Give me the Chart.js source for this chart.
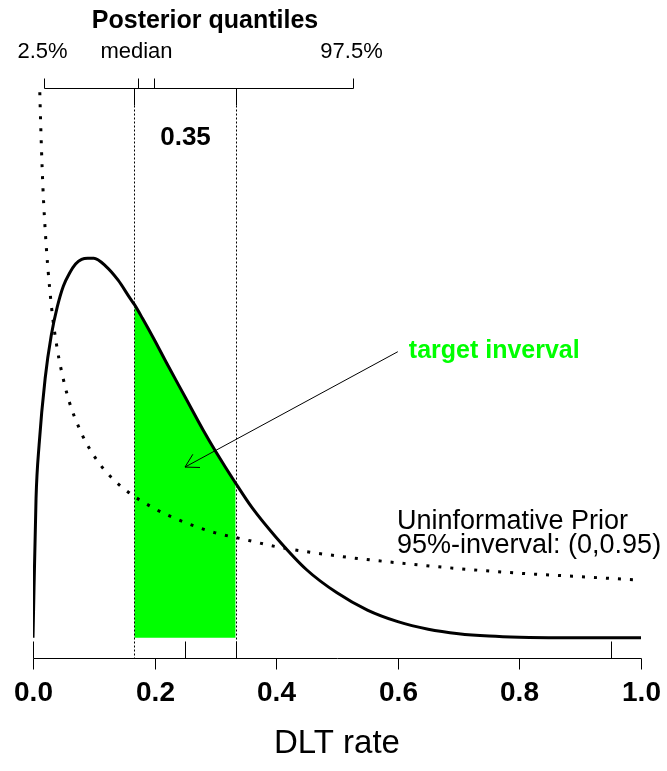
<!DOCTYPE html>
<html><head><meta charset="utf-8">
<script src="https://cdn.jsdelivr.net/npm/chart.js@4"></script>
<style>html,body{margin:0;padding:0;background:#fff}#wrap{width:667px;height:771px}</style>
</head><body><div id="wrap"><canvas id="c" width="667" height="771"></canvas></div>
<script>
// ---- data ----
const xGrid = [0,0.005,0.01,0.02,0.03,0.04,0.05,0.06,0.07,0.08,0.09,0.10,0.12,0.14,0.16,1/6,0.18,0.20,0.22,0.25,0.28,0.30,1/3,0.36,0.40,0.45,0.50,0.55,0.60,0.65,0.70,0.75,0.80,0.90,1.00];
const posterior = [0,1.21,1.67,2.25,2.62,2.87,3.05,3.16,3.24,3.28,3.29,3.29,3.22,3.10,2.94,2.89,2.77,2.58,2.38,2.09,1.80,1.62,1.34,1.13,0.87,0.59,0.39,0.24,0.14,0.075,0.036,0.015,0.005,0.0005,0];
const priorX = [0.0075,0.01,0.015,0.02,0.03,0.04,0.05,0.06,0.08,0.10,0.12,0.15,0.20,0.25,0.30,0.35,0.40,0.50,0.60,0.70,0.80,0.90,1.00];
const prior = [5.77,5.0,4.08,3.54,2.89,2.50,2.24,2.04,1.77,1.58,1.44,1.29,1.12,1.00,0.91,0.85,0.79,0.71,0.65,0.60,0.56,0.53,0.50];
const targetInterval = [1/6, 1/3];
const targetProb = "0.35";
const xTickValues = [0,0.2,0.4,0.6,0.8,1.0];
const xTickLabels = ["0.0","0.2","0.4","0.6","0.8","1.0"];
const rugValues = [0,0.25,1/3,0.95];
const quantileValues = [0.018,0.173,0.199,0.526];
const quantileLabels = ["2.5%","median","","97.5%"];
const texts = {title:"Posterior quantiles", xTitle:"DLT rate", target:"target inverval", prior1:"Uninformative Prior", prior2:"95%-inverval: (0,0.95)"};
const arrowFrom = [0.600, 2.48], arrowTo = [0.25, 1.48];

// ---- build datasets ----
const postPts = xGrid.map((x,i)=>({x, y:posterior[i]}));
const priorPts = priorX.map((x,i)=>({x, y:prior[i]}));
const fillPts = postPts.filter(p=>p.x>=targetInterval[0]-1e-9 && p.x<=targetInterval[1]+1e-9);

const FONT = '"Liberation Sans", Arial, sans-serif';
function txt(ctx,s,x,y,size,opt={}){
  ctx.save();
  ctx.font=(opt.bold?'bold ':'')+size+'px '+FONT;
  ctx.fillStyle=opt.color||'#000';
  ctx.textAlign=opt.align||'center';
  ctx.textBaseline='alphabetic';
  ctx.fillText(s,x,y);
  ctx.restore();
}
function seg(ctx,x1,y1,x2,y2){ctx.beginPath();ctx.moveTo(x1,y1);ctx.lineTo(x2,y2);ctx.stroke();}

const overlay = {
  id:'overlay',
  afterDatasetsDraw(chart){
    const ctx=chart.ctx, xs=chart.scales.x, ys=chart.scales.y, a=chart.chartArea;
    const X=v=>Math.round(xs.getPixelForValue(v))+0.5, Y=v=>ys.getPixelForValue(v);
    ctx.save();
    ctx.strokeStyle='#000'; ctx.lineWidth=1; ctx.lineCap='butt';
    const yt=Math.round(a.top)+0.5, yb=Math.round(a.bottom)+0.5;
    // vertical interval lines
    targetInterval.forEach(v=>{
      ctx.setLineDash([]); seg(ctx,X(v),yt,X(v),yt+17);
      ctx.setLineDash([2,2]); seg(ctx,X(v),yt+17,X(v),yb);
    });
    ctx.setLineDash([]);
    // bottom axis
    seg(ctx,X(0),yb,X(1),yb);
    xTickValues.forEach((v,i)=>{ seg(ctx,X(v),yb,X(v),yb+11); txt(ctx,xTickLabels[i],X(v),yb+42,28,{bold:true}); });
    rugValues.forEach(v=>seg(ctx,X(v),yb,X(v),yb-17));
    txt(ctx,texts.xTitle,(a.left+a.right)/2,yb+94,33);
    // top quantile axis
    seg(ctx,X(quantileValues[0]),yt,X(quantileValues[quantileValues.length-1]),yt);
    quantileValues.forEach((v,i)=>{ seg(ctx,X(v),yt,X(v),yt-10); if(quantileLabels[i]) txt(ctx,quantileLabels[i],X(v)-2,yt-31,22); });
    txt(ctx,texts.title,205,28,25,{bold:true});
    // probability label
    txt(ctx,targetProb,(X(targetInterval[0])+X(targetInterval[1]))/2,145,26,{bold:true});
    // arrow
    const x1=xs.getPixelForValue(arrowFrom[0]), y1=Y(arrowFrom[1]);
    const x2=xs.getPixelForValue(arrowTo[0]), y2=Y(arrowTo[1]);
    seg(ctx,x1,y1,x2,y2);
    const ang=Math.atan2(y1-y2,x1-x2), L=15, h=Math.PI/6;
    seg(ctx,x2,y2,x2+L*Math.cos(ang+h),y2+L*Math.sin(ang+h));
    seg(ctx,x2,y2,x2+L*Math.cos(ang-h),y2+L*Math.sin(ang-h));
    // annotations
    txt(ctx,texts.target,x1+11,y1+6,25,{bold:true,color:'#00ff00',align:'left'});
    txt(ctx,texts.prior1,397,529,27,{align:'left'});
    txt(ctx,texts.prior2,397,553,27,{align:'left'});
    ctx.restore();
  }
};

new Chart(document.getElementById('c'),{
  type:'scatter',
  data:{datasets:[
    {label:'posterior',data:postPts,showLine:true,borderColor:'#000',borderWidth:3,pointRadius:0,cubicInterpolationMode:'monotone',order:0,borderJoinStyle:'round'},
    {label:'prior',data:priorPts,showLine:true,borderColor:'#000',borderWidth:3,borderDash:[3,9],borderCapStyle:'butt',pointRadius:0,cubicInterpolationMode:'monotone',order:1},
    {label:'target',data:fillPts,showLine:true,borderColor:'rgba(0,0,0,0)',borderWidth:0,backgroundColor:'#00ff00',fill:'origin',pointRadius:0,cubicInterpolationMode:'monotone',order:2}
  ]},
  options:{
    responsive:false, animation:false,
    layout:{padding:{left:33,right:26,top:88,bottom:113}},
    plugins:{legend:{display:false},tooltip:{enabled:false}},
    scales:{
      x:{type:'linear',min:0,max:1,display:false},
      y:{type:'linear',min:-0.175,max:4.766,display:false}
    }
  },
  plugins:[overlay]
});
</script></body></html>
